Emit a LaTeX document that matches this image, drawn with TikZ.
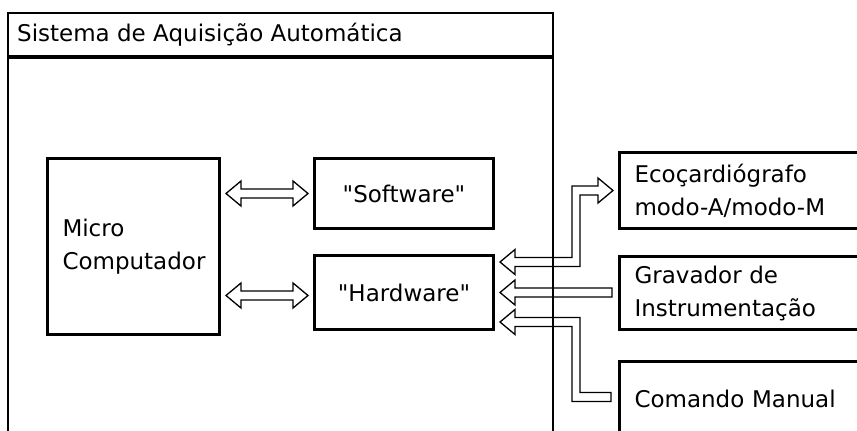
\documentclass[tikz,border=0pt]{standalone}
\usepackage{fontspec}
\setmainfont{DejaVu Sans}[Ligatures=TeXOff]
\usetikzlibrary{calc}

\tikzset{
	box/.style={draw, line width=3pt, anchor=north west, inner xsep=15pt},
	blockarrow/.style={draw, line width=1.3pt, line join=miter},
}

% hollow two-headed arrow between two points at the same height
\newcommand{\dblarrow}[2]{%
	\draw[blockarrow] let \p1 = (#1), \p2 = (#2) in
		(\p1) -- (\x1+15pt, \y1+12.5pt) -- (\x1+15pt, \y1+4.5pt) -- (\x2-15pt, \y1+4.5pt)
		-- (\x2-15pt, \y1+12.5pt) -- (\p2) -- (\x2-15pt, \y1-12.5pt) -- (\x2-15pt, \y1-4.5pt)
		-- (\x1+15pt, \y1-4.5pt) -- (\x1+15pt, \y1-12.5pt) -- cycle;
}

\begin{document}
\begin{tikzpicture}[x=1pt, y=-1pt, font=\fontsize{23}{33}\selectfont]
		\clip (0, 0) rectangle (857, 431);

		% frame
		\draw[line width=1.6pt] (8, 440) -- (8, 13) -- (553, 13) -- (553, 440);
		\draw[line width=3.5pt] (8, 57) -- (553, 57);
		\node[anchor=west, inner sep=0pt] (title) at (17, 35) {Sistema de Aquisição Automática};

		\node[box, minimum width=172pt, minimum height=176pt, text width=142pt, align=left] (micro) at (46, 157) {Micro\\Computador};
		\node[box, minimum width=179pt, minimum height=70pt] (sw) at (313, 157) {"Software"};
		\node[box, minimum width=179pt, minimum height=74pt] (hw) at (313, 254) {"Hardware"};

		\node[box, minimum width=300pt, minimum height=76pt, text width=270pt, align=left] (eco) at (618, 151) {Ecoçardiógrafo\\modo-A/modo-M};
		\node[box, minimum width=300pt, minimum height=73pt, text width=270pt, align=left] (grav) at (618, 255) {Gravador de\\Instrumentação};
		\node[box, minimum width=300pt, minimum height=74pt, text width=270pt, align=left] (cmd) at (618, 360) {Comando Manual};

		% micro <-> software / hardware
		\coordinate (swL) at ($(micro.east |- sw.west) + (5, 0)$);
		\coordinate (swR) at ($(sw.west) + (-5, 0)$);
		\coordinate (hwL) at ($(micro.east |- hw.west) + (5, 3)$);
		\coordinate (hwR) at ($(hw.west) + (-5, 3)$);
		\dblarrow{swL}{swR}
		\dblarrow{hwL}{hwR}

		% hardware <-> outside
		\coordinate (bend) at (576, 0);
		\coordinate (ecoL) at ($(hw.north east) + (5, 8)$);
		\coordinate (ecoR) at ($(eco.west) + (-5, 0)$);
		\coordinate (gravL) at ($(hw.east) + (5, 0)$);
		\coordinate (gravR) at ($(grav.west) + (-6, 0)$);
		\coordinate (cmdL) at ($(hw.south east) + (5, -9)$);
		\coordinate (cmdR) at ($(cmd.north west) + (-7, 37)$);

		\draw[blockarrow] let \p1 = (ecoL), \p2 = (ecoR), \p3 = (bend) in
			(\p1) -- (\x1+15pt, \y1+12.5pt) -- (\x1+15pt, \y1+4.5pt) -- (\x3-4pt, \y1+4.5pt)
			-- (\x3-4pt, \y2+4.5pt) -- (\x2-15pt, \y2+4.5pt) -- (\x2-15pt, \y2+12.5pt) -- (\p2)
			-- (\x2-15pt, \y2-12.5pt) -- (\x2-15pt, \y2-4.5pt) -- (\x3+4pt, \y2-4.5pt)
			-- (\x3+4pt, \y1-4.5pt) -- (\x1+15pt, \y1-4.5pt) -- (\x1+15pt, \y1-12.5pt) -- cycle;

		\draw[blockarrow] let \p1 = (gravL), \p2 = (gravR) in
			(\p1) -- (\x1+15pt, \y1+12.5pt) -- (\x1+15pt, \y1+4.5pt) -- (\x2, \y1+4.5pt)
			-- (\x2, \y1-4.5pt) -- (\x1+15pt, \y1-4.5pt) -- (\x1+15pt, \y1-12.5pt) -- cycle;

		\draw[blockarrow] let \p1 = (cmdL), \p2 = (cmdR), \p3 = (bend) in
			(\p1) -- (\x1+15pt, \y1+12.5pt) -- (\x1+15pt, \y1+4.5pt) -- (\x3+4pt, \y1+4.5pt)
			-- (\x3+4pt, \y2+4.5pt) -- (\x2, \y2+4.5pt) -- (\x2, \y2-4.5pt) -- (\x3-4pt, \y2-4.5pt)
			-- (\x3-4pt, \y1-4.5pt) -- (\x1+15pt, \y1-4.5pt) -- (\x1+15pt, \y1-12.5pt) -- cycle;
	\end{tikzpicture}
\end{document}
